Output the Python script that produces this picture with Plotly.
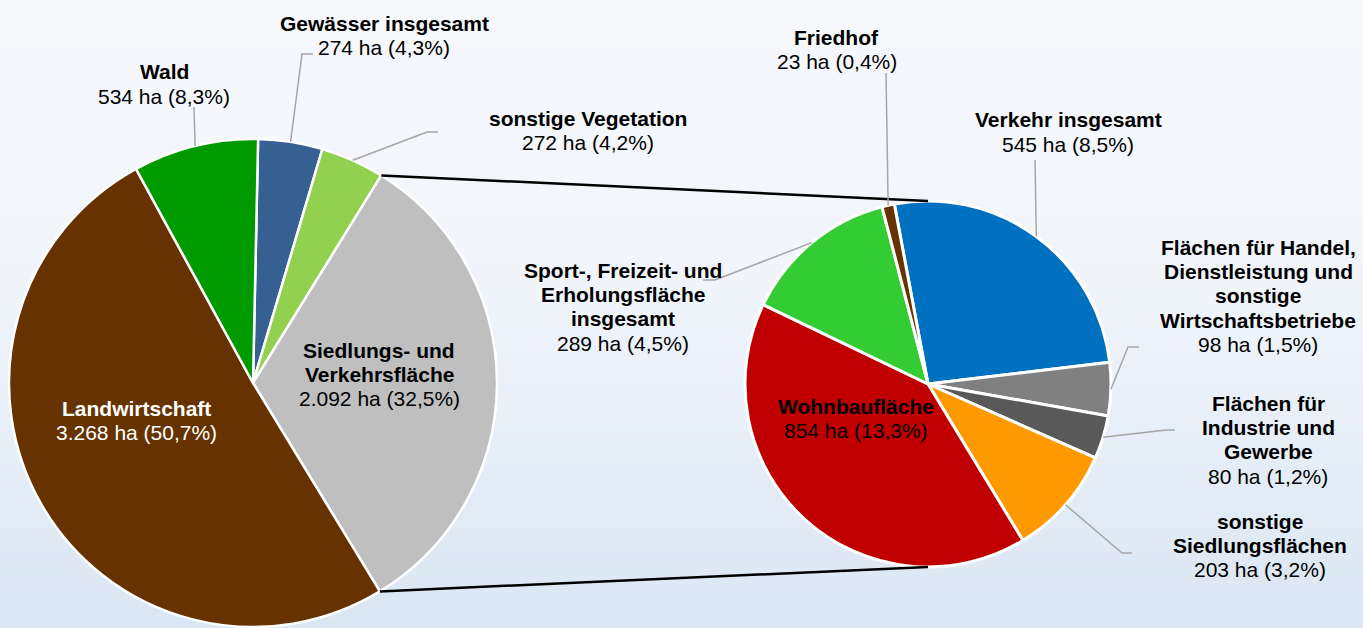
import math
import plotly.graph_objects as go

# ---------------- data ----------------
main_labels = ["Gewässer insgesamt", "sonstige Vegetation", "Siedlungs- und<br>Verkehrsfläche",
               "Landwirtschaft", "Wald"]
main_values = [274, 272, 2092, 3268, 534]
main_colors = ["#376092", "#92D050", "#BFBFBF", "#663300", "#009900"]

sub_labels = ["Verkehr insgesamt",
              "Flächen für Handel,<br>Dienstleistung und<br>sonstige<br>Wirtschaftsbetriebe",
              "Flächen für<br>Industrie und<br>Gewerbe",
              "sonstige<br>Siedlungsflächen",
              "Wohnbaufläche",
              "Sport-, Freizeit- und<br>Erholungsfläche<br>insgesamt",
              "Friedhof"]
sub_values = [545, 98, 80, 203, 854, 289, 23]
sub_colors = ["#0070C0", "#808080", "#595959", "#FF9900", "#C00000", "#33CC33", "#663300"]

TOTAL = sum(main_values)

# ---------------- layout constants (pixels) ----------------
W, H = 1363, 628
L_CX, L_CY, L_R, L_ROT = 253, 383, 244, 1.2
R_CX, R_CY, R_R, R_ROT = 928, 384, 183, -10.6
FONT = "Liberation Sans, Arial, sans-serif"
FS = 21
LINE = 24.4

def px(x):
    return x / W

def py(y):
    return min(1.0, max(0.0, 1 - y / H))

def domain(cx, cy, r):
    return dict(x=[px(cx - r), px(cx + r)], y=[py(cy + r), py(cy - r)])

def fmt_val(v):
    pct = f"{v / TOTAL * 100:.1f}".replace(".", ",")
    return f"{v:,}".replace(",", ".") + f" ha ({pct}%)"

def point(cx, cy, r, ang):
    a = math.radians(ang)
    return cx + r * math.sin(a), cy - r * math.cos(a)

def mid_angles(values, rot):
    tot = sum(values)
    out, cum = [], 0
    for v in values:
        out.append(rot + 360 * (cum + v / 2) / tot)
        cum += v
    return out

fig = go.Figure()

fig.add_trace(go.Pie(
    labels=[l.replace("<br>", " ") for l in main_labels], values=main_values,
    marker=dict(colors=main_colors, line=dict(color="white", width=2.5)),
    sort=False, direction="clockwise", rotation=L_ROT,
    textinfo="none", hoverinfo="label+value", domain=domain(L_CX, L_CY, L_R),
))
fig.add_trace(go.Pie(
    labels=[l.replace("<br>", " ") for l in sub_labels], values=sub_values,
    marker=dict(colors=sub_colors, line=dict(color="white", width=3)),
    sort=False, direction="clockwise", rotation=R_ROT,
    textinfo="none", hoverinfo="label+value", domain=domain(R_CX, R_CY, R_R),
))

shapes = []
# background gradient
stops = [(0, (247, 248, 252)), (0.45, (241, 245, 251)), (1.0, (218, 230, 243))]
N = 70
for i in range(N):
    t = (i + 0.5) / N
    for (t0, c0), (t1, c1) in zip(stops[:-1], stops[1:]):
        if t0 <= t <= t1:
            f = (t - t0) / (t1 - t0)
            c = tuple(round(c0[k] + (c1[k] - c0[k]) * f) for k in range(3))
            break
    shapes.append(dict(type="rect", xref="paper", yref="paper", x0=0, x1=1,
                       y0=max(0, 1 - (i + 1) / N - 0.002), y1=1 - i / N,
                       fillcolor=f"rgb{c}", line=dict(width=0), layer="below"))

# connector lines between the pies
cum_start = main_values[0] + main_values[1]
a_top = L_ROT + 360 * cum_start / TOTAL
a_bot = L_ROT + 360 * (cum_start + main_values[2]) / TOTAL
for ang, ty in [(a_top, R_CY - R_R), (a_bot, R_CY + R_R)]:
    sx, sy = point(L_CX, L_CY, L_R, ang)
    shapes.append(dict(type="line", xref="paper", yref="paper",
                       x0=px(sx), y0=py(sy), x1=px(R_CX), y1=py(ty),
                       line=dict(color="black", width=2.5)))

# leader lines: slice -> elbow points
def leader(cx, cy, r, ang, pts):
    sx, sy = point(cx, cy, r, ang)
    path = f"M {px(sx)} {py(sy)} " + " ".join(f"L {px(x)} {py(y)}" for x, y in pts)
    shapes.append(dict(type="path", xref="paper", yref="paper", path=path,
                       line=dict(color="#A6A6A6", width=1.5)))

lm = mid_angles(main_values, L_ROT)
rm = mid_angles(sub_values, R_ROT)
leader(L_CX, L_CY, L_R, lm[0], [(302, 54), (313, 54)])
leader(L_CX, L_CY, L_R, lm[1], [(427, 132), (438, 132)])
leader(L_CX, L_CY, L_R, lm[4], [(194, 107)])
leader(R_CX, R_CY, R_R, rm[0], [(1035, 160)])
leader(R_CX, R_CY, R_R, rm[1], [(1128, 347), (1139, 347)])
leader(R_CX, R_CY, R_R, rm[2], [(1166, 430), (1175, 430)])
leader(R_CX, R_CY, R_R, rm[3], [(1122, 553), (1132, 553)])
leader(R_CX, R_CY, R_R, rm[5], [(715, 280), (703, 280)])
leader(R_CX, R_CY, R_R, rm[6], [(886, 73)])

# labels: (name, value, center x, first line center y, color)
annotations = []
def label(name, value, cx, y0, color="black"):
    lines = [f"<b>{s}</b>" for s in name.split("<br>")] + [fmt_val(value)]
    for i, s in enumerate(lines):
        annotations.append(dict(text=s, x=px(cx), y=py(y0 + i * LINE),
                                xref="paper", yref="paper", showarrow=False,
                                xanchor="center", yanchor="middle",
                                font=dict(family=FONT, size=FS, color=color)))

label(main_labels[0], main_values[0], 384, 23)
label(main_labels[1], main_values[1], 588, 118)
label(main_labels[2], main_values[2], 379, 350)
label(main_labels[3], main_values[3], 136, 408, "white")
label(main_labels[4], main_values[4], 164, 72)

label(sub_labels[0], sub_values[0], 1068, 120)
label(sub_labels[1], sub_values[1], 1258, 247)
label(sub_labels[2], sub_values[2], 1268, 403)
label(sub_labels[3], sub_values[3], 1260, 521)
label(sub_labels[4], sub_values[4], 856, 406)
label(sub_labels[5], sub_values[5], 623, 270)
label(sub_labels[6], sub_values[6], 837, 37)

fig.update_layout(
    width=W, height=H, margin=dict(l=0, r=0, t=0, b=0),
    showlegend=False, paper_bgcolor="rgb(247,248,252)", plot_bgcolor="rgba(0,0,0,0)",
    shapes=shapes, annotations=annotations,
)

fig.write_html("out.html", config={"displayModeBar": False},
               post_script="document.body.style.margin='0';document.body.style.overflow='hidden';")
